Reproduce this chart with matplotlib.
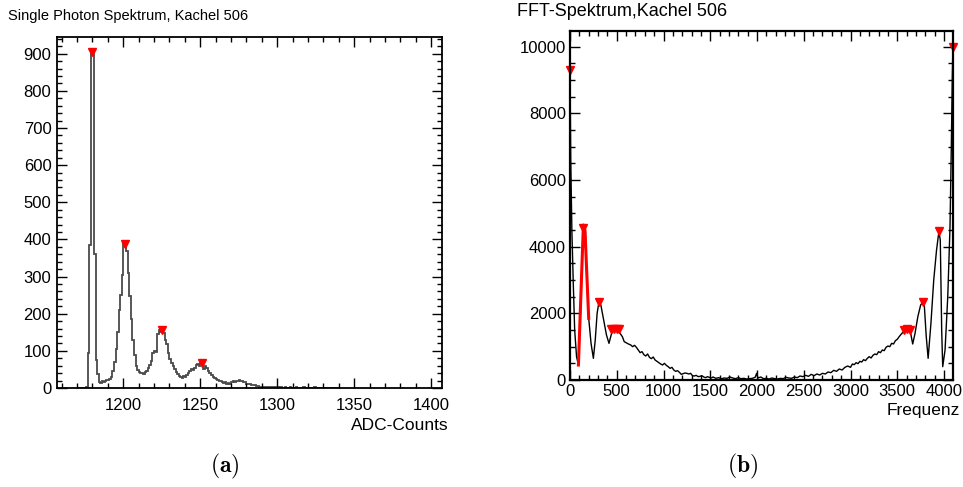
import matplotlib
matplotlib.use("Agg")
import matplotlib.pyplot as plt
from matplotlib.ticker import MultipleLocator

plt.rcParams['font.family'] = ['Liberation Sans', 'DejaVu Sans']
plt.rcParams['mathtext.fontset'] = 'cm'

# ---------------- data: single photon spectrum (counts per ADC bin) ----------
adc_start = 1170
spe_counts = [
    0, 0, 0, 0, 0, 0, 2, 95, 385, 900,            # 1170-1179
    898, 360, 75, 38, 15, 14, 18, 16, 20, 22,      # 1180-1189
    22, 25, 30, 45, 70, 105, 150, 210, 250, 305,   # 1190-1199
    390, 380, 368, 310, 248, 185, 130, 90, 60, 48, # 1200-1209
    42, 40, 40, 38, 42, 45, 55, 62, 72, 95,        # 1210-1219
    100, 98, 145, 155, 152, 150, 148, 130, 118, 95,# 1220-1229
    78, 68, 58, 52, 42, 38, 32, 30, 28, 32,        # 1230-1239
    30, 35, 40, 45, 50, 48, 55, 62, 65, 58,        # 1240-1249
    68, 65, 52, 60, 55, 45, 40, 35, 30, 28,        # 1250-1259
    25, 22, 20, 18, 16, 14, 15, 12, 14, 11,        # 1260-1269
    15, 18, 15, 20, 18, 22, 20, 18, 16, 15,        # 1270-1279
    12, 11, 10, 9, 8, 7, 6, 5, 4, 3,               # 1280-1289
    3, 2, 3, 2, 2, 3, 2, 3, 2, 2,                  # 1290-1299
    2, 1, 2, 1, 1, 2, 1, 1, 2, 1,                  # 1300-1309
    1, 1, 2, 1, 1, 1, 1, 2, 1, 1,                  # 1310-1319
    1, 1, 1, 1, 2, 1, 1, 1, 1, 1,                  # 1320-1329
    1, 1, 1, 1, 1, 0, 0, 0, 0, 0,                  # 1330-1339
]
spe_peak_x = [1179.5, 1201.0, 1225.5, 1251.0]
spe_peak_y = [905, 388, 155, 68]

# ---------------- data: FFT spectrum -----------------------------------------
fft_freq = [
    0, 8, 20, 35, 50, 70, 90, 110, 130, 150, 165, 180, 200, 225, 250, 270, 290,
    310, 330, 360, 390, 417, 440, 465, 490, 515, 540, 560, 580, 600, 625, 650,
    670, 690, 710, 730, 750, 770, 790, 810, 830, 850, 870, 890, 910, 930, 950,
    970, 990, 1010, 1030, 1050, 1070, 1090, 1110, 1130, 1150, 1170, 1190, 1210,
    1230, 1250, 1270, 1290, 1310, 1330, 1350, 1370, 1390, 1410, 1430, 1450,
    1470, 1490, 1510, 1530, 1560, 1590, 1620, 1650, 1680, 1710, 1740, 1770,
    1800, 1830, 1860, 1890, 1920, 1950, 1980, 1996, 2010, 2040, 2070, 2100,
    2130, 2160, 2190, 2220, 2250, 2280, 2310, 2340, 2370, 2400, 2430, 2460,
    2490, 2520, 2550, 2580, 2610, 2640, 2670, 2700, 2730, 2760, 2790, 2820,
    2850, 2880, 2910, 2940, 2970, 3000, 3020, 3040, 3060, 3080, 3100, 3120,
    3140, 3160, 3180, 3200, 3220, 3240, 3260, 3280, 3300, 3320, 3340, 3360,
    3380, 3400, 3420, 3440, 3460, 3480, 3500, 3520, 3550, 3580, 3610, 3640,
    3665, 3690, 3720, 3750, 3771, 3790, 3810, 3830, 3860, 3890, 3920, 3945,
    3960, 3975, 3986, 4011, 4040, 4064, 4078, 4088, 4095,
]
fft_amp = [
    9300, 6600, 4500, 2900, 1500, 700, 450, 1800, 3800, 4600, 4450, 3000, 1850,
    1100, 650, 1200, 2000, 2350, 2250, 1800, 1350, 1100, 1350, 1520, 1500,
    1470, 1380, 1300, 1150, 1120, 1080, 1050, 1000, 1040, 980, 900, 820, 850,
    760, 720, 780, 680, 640, 690, 600, 560, 520, 480, 450, 500, 440, 400, 350,
    380, 300, 260, 280, 230, 170, 190, 210, 200, 180, 200, 130, 120, 140, 100,
    110, 130, 90, 70, 100, 80, 60, 90, 50, 70, 40, 60, 50, 90, 60, 40, 70, 40,
    50, 30, 40, 50, 80, 200, 60, 90, 40, 50, 30, 60, 40, 30, 50, 40, 80, 60,
    50, 90, 70, 120, 100, 140, 110, 170, 130, 180, 150, 200, 180, 240, 220,
    290, 260, 330, 300, 380, 420, 380, 480, 460, 520, 490, 560, 540, 610, 580,
    650, 700, 660, 740, 780, 760, 850, 820, 900, 880, 980, 1020, 1000, 1100,
    1080, 1180, 1220, 1300, 1400, 1480, 1520, 1450, 1080, 1400, 1900, 2250,
    2330, 2200, 1300, 650, 1700, 3000, 3900, 4450, 4200, 1500, 400, 900, 2500,
    4600, 7000, 9000, 10000,
]
fit_freq = [90, 143, 160, 200]
fit_amp = [450, 4650, 4500, 1850]
fft_peak_x = [3, 138, 312, 440, 470, 500, 520, 3570, 3600, 3635, 3771, 3945, 4092]
fft_peak_y = [9300, 4550, 2350, 1530, 1530, 1530, 1520, 1500, 1520, 1500, 2340, 4480, 10000]

# ---------------- figure ------------------------------------------------------
W, H = 963, 487
fig = plt.figure(figsize=(W / 100, H / 100), dpi=100)


def rect(l, t, r, b):
    return [l / W, 1 - b / H, (r - l) / W, (b - t) / H]


def style_axes(ax, lw):
    for s in ax.spines.values():
        s.set_linewidth(lw)
    ax.tick_params(which='both', direction='in', top=True, right=True,
                   width=1.0, colors='black')
    ax.tick_params(which='major', length=7)
    ax.tick_params(which='minor', length=3.5)


# left panel
ax1 = fig.add_axes(rect(57, 37, 442, 388))
edges = list(range(adc_start, adc_start + len(spe_counts) + 1))
ax1.stairs(spe_counts, edges, color='#4a4a4a', lw=1.3, baseline=None)
ax1.plot(spe_peak_x, spe_peak_y, 'v', color='red', ms=6, mec='red')
ax1.set_xlim(1157, 1407)
ax1.set_ylim(0, 945)
ax1.xaxis.set_major_locator(MultipleLocator(50))
ax1.xaxis.set_minor_locator(MultipleLocator(10))
ax1.yaxis.set_major_locator(MultipleLocator(100))
ax1.yaxis.set_minor_locator(MultipleLocator(20))
style_axes(ax1, 1.3)
ax1.tick_params(axis='y', labelsize=12, pad=4)
ax1.tick_params(axis='x', labelsize=12, pad=7)
fig.text(449 / W, 1 - 426 / H, 'ADC-Counts', fontsize=12.5,
         ha='right', va='center')
fig.text(8 / W, 1 - 16 / H, 'Single Photon Spektrum, Kachel 506',
         fontsize=10.5, va='center', ha='left')

# right panel
ax2 = fig.add_axes(rect(570, 31, 953, 380))
ax2.plot(fft_freq, fft_amp, color='black', lw=1.0)
ax2.plot(fit_freq, fit_amp, color='red', lw=2.2)
ax2.plot(fft_peak_x, fft_peak_y, 'v', color='red', ms=6, mec='red',
         clip_on=False)
ax2.set_xlim(0, 4096)
ax2.set_ylim(0, 10470)
ax2.xaxis.set_major_locator(MultipleLocator(500))
ax2.xaxis.set_minor_locator(MultipleLocator(100))
ax2.yaxis.set_major_locator(MultipleLocator(2000))
ax2.yaxis.set_minor_locator(MultipleLocator(500))
style_axes(ax2, 1.6)
ax2.tick_params(labelsize=12, pad=3)
fig.text(960 / W, 1 - 411 / H, 'Frequenz', fontsize=12.5,
         ha='right', va='center')
fig.text(517 / W, 1 - 12 / H, 'FFT-Spektrum,Kachel 506',
         fontsize=13, va='center', ha='left')

# captions
fig.text(225 / W, 1 - 466 / H, r'$\mathbf{(a)}$', fontsize=17,
         ha='center', va='center')
fig.text(743 / W, 1 - 466 / H, r'$\mathbf{(b)}$', fontsize=17,
         ha='center', va='center')

fig.savefig('out.png', dpi=100)
